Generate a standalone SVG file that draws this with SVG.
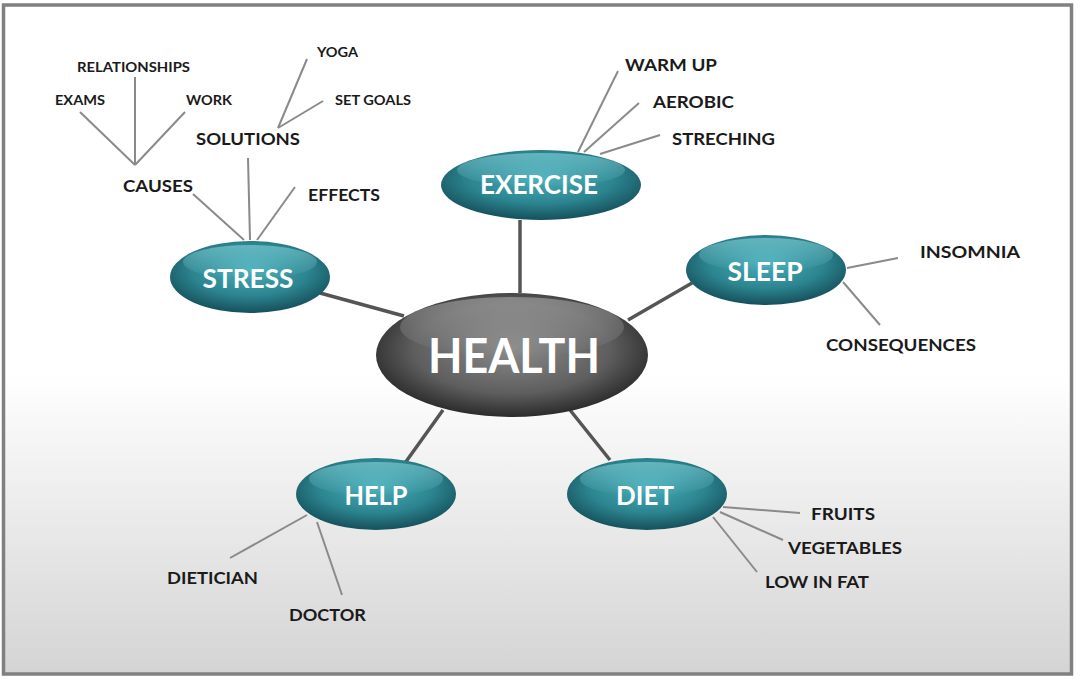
<svg xmlns="http://www.w3.org/2000/svg" width="1080" height="682" viewBox="0 0 1080 682">
<defs>
<linearGradient id="bg" x1="0" y1="0" x2="0" y2="1">
<stop offset="0" stop-color="#ffffff"/>
<stop offset="0.55" stop-color="#ffffff"/>
<stop offset="1" stop-color="#d4d4d4"/>
</linearGradient>
<radialGradient id="teal" cx="0.5" cy="0.4" r="0.6">
<stop offset="0" stop-color="#46adb8"/>
<stop offset="0.6" stop-color="#2c8590"/>
<stop offset="1" stop-color="#15505b"/>
</radialGradient>
<linearGradient id="tealGloss" x1="0" y1="0" x2="0" y2="1">
<stop offset="0" stop-color="#8fdbe3" stop-opacity="0.55"/>
<stop offset="1" stop-color="#8fdbe3" stop-opacity="0"/>
</linearGradient>
<radialGradient id="grey" cx="0.5" cy="0.45" r="0.6">
<stop offset="0" stop-color="#8a8a8a"/>
<stop offset="0.6" stop-color="#5e5e5e"/>
<stop offset="1" stop-color="#1e1e1e"/>
</radialGradient>
<linearGradient id="greyGloss" x1="0" y1="0" x2="0" y2="1">
<stop offset="0" stop-color="#c8c8c8" stop-opacity="0.45"/>
<stop offset="1" stop-color="#c8c8c8" stop-opacity="0"/>
</linearGradient>
<style>
.main{stroke:#555;stroke-width:3.5;fill:none}
.sub{stroke:#8a8a8a;stroke-width:2;fill:none}
.lbl{font-family:Lato,"Open Sans","Liberation Sans",sans-serif;font-weight:bold;fill:#1a1a1a}
.l2{font-size:17px}
.l3{font-size:13px}
.nt{font-family:Lato,"Open Sans","Liberation Sans",sans-serif;font-weight:bold;fill:#ffffff;font-size:27px;text-anchor:middle}
.ht{font-size:47px}
</style>
</defs>
<rect x="0" y="0" width="1080" height="682" fill="#ffffff"/>
<rect x="3.5" y="5" width="1068" height="669" fill="url(#bg)" stroke="#808080" stroke-width="3.5"/>
<g id="connectors">
<line class="main" x1="520" y1="220" x2="520" y2="293"/>
<line class="main" x1="320" y1="293" x2="404" y2="316"/>
<line class="main" x1="628" y1="320" x2="692" y2="283"/>
<line class="main" x1="443" y1="410" x2="405" y2="463"/>
<line class="main" x1="570" y1="410" x2="610" y2="460"/>
<line class="sub" x1="193" y1="194" x2="244" y2="240"/>
<line class="sub" x1="248" y1="158" x2="250" y2="240"/>
<line class="sub" x1="295" y1="187" x2="257" y2="240"/>
<line class="sub" x1="80" y1="112" x2="135" y2="165"/>
<line class="sub" x1="135" y1="77" x2="135" y2="165"/>
<line class="sub" x1="185" y1="112" x2="135" y2="165"/>
<line class="sub" x1="307" y1="59" x2="278" y2="128"/>
<line class="sub" x1="323" y1="101" x2="278" y2="128"/>
<line class="sub" x1="618" y1="71" x2="578" y2="152"/>
<line class="sub" x1="639" y1="103" x2="584" y2="152"/>
<line class="sub" x1="660" y1="135" x2="600" y2="154"/>
<line class="sub" x1="847" y1="268" x2="898" y2="258"/>
<line class="sub" x1="843" y1="282" x2="880" y2="325"/>
<line class="sub" x1="723" y1="507" x2="800" y2="513"/>
<line class="sub" x1="720" y1="512" x2="783" y2="540"/>
<line class="sub" x1="713" y1="517" x2="757" y2="572"/>
<line class="sub" x1="307" y1="515" x2="230" y2="558"/>
<line class="sub" x1="317" y1="522" x2="342" y2="595"/>
</g>
<g id="health">
<ellipse cx="512" cy="355" rx="136" ry="62" fill="url(#grey)"/>
<ellipse cx="512" cy="327" rx="112" ry="30" fill="url(#greyGloss)"/>
<text class="nt ht" x="514" y="373" textLength="172" lengthAdjust="spacingAndGlyphs">HEALTH</text>
</g>
<g id="exercise">
<ellipse cx="541" cy="185" rx="100" ry="35" fill="url(#teal)"/>
<ellipse cx="541" cy="170" rx="84" ry="17" fill="url(#tealGloss)"/>
<text class="nt" x="539" y="194" textLength="118" lengthAdjust="spacingAndGlyphs">EXERCISE</text>
</g>
<g id="stress">
<ellipse cx="250" cy="277" rx="80" ry="36" fill="url(#teal)"/>
<ellipse cx="250" cy="262" rx="67" ry="17" fill="url(#tealGloss)"/>
<text class="nt" x="248" y="288" textLength="91" lengthAdjust="spacingAndGlyphs">STRESS</text>
</g>
<g id="sleep">
<ellipse cx="766" cy="270" rx="80" ry="35" fill="url(#teal)"/>
<ellipse cx="766" cy="255" rx="67" ry="17" fill="url(#tealGloss)"/>
<text class="nt" x="765" y="281" textLength="75" lengthAdjust="spacingAndGlyphs">SLEEP</text>
</g>
<g id="help">
<ellipse cx="376" cy="494" rx="80" ry="36" fill="url(#teal)"/>
<ellipse cx="376" cy="479" rx="67" ry="17" fill="url(#tealGloss)"/>
<text class="nt" x="376" y="505" textLength="63" lengthAdjust="spacingAndGlyphs">HELP</text>
</g>
<g id="diet">
<ellipse cx="647" cy="494" rx="80" ry="36" fill="url(#teal)"/>
<ellipse cx="647" cy="479" rx="67" ry="17" fill="url(#tealGloss)"/>
<text class="nt" x="645" y="505" textLength="58" lengthAdjust="spacingAndGlyphs">DIET</text>
</g>
<g id="labels">
<text id="causes" class="lbl l2" x="123" y="192" textLength="70" lengthAdjust="spacingAndGlyphs">CAUSES</text>
<text id="solutions" class="lbl l2" x="196" y="145" textLength="104" lengthAdjust="spacingAndGlyphs">SOLUTIONS</text>
<text id="effects" class="lbl l2" x="308" y="201" textLength="72" lengthAdjust="spacingAndGlyphs">EFFECTS</text>
<text id="exams" class="lbl l3" x="55" y="105" textLength="50" lengthAdjust="spacingAndGlyphs">EXAMS</text>
<text id="relationships" class="lbl l3" x="77" y="72" textLength="113" lengthAdjust="spacingAndGlyphs">RELATIONSHIPS</text>
<text id="work" class="lbl l3" x="186" y="105" textLength="46" lengthAdjust="spacingAndGlyphs">WORK</text>
<text id="yoga" class="lbl l3" x="317" y="57" textLength="41" lengthAdjust="spacingAndGlyphs">YOGA</text>
<text id="setgoals" class="lbl l3" x="335" y="105" textLength="76" lengthAdjust="spacingAndGlyphs">SET GOALS</text>
<text id="warmup" class="lbl l2" x="625" y="71" textLength="92" lengthAdjust="spacingAndGlyphs">WARM UP</text>
<text id="aerobic" class="lbl l2" x="653" y="108" textLength="81" lengthAdjust="spacingAndGlyphs">AEROBIC</text>
<text id="streching" class="lbl l2" x="672" y="145" textLength="103" lengthAdjust="spacingAndGlyphs">STRECHING</text>
<text id="insomnia" class="lbl l2" x="920" y="258" textLength="100" lengthAdjust="spacingAndGlyphs">INSOMNIA</text>
<text id="consequences" class="lbl l2" x="826" y="351" textLength="150" lengthAdjust="spacingAndGlyphs">CONSEQUENCES</text>
<text id="fruits" class="lbl l2" x="811" y="520" textLength="64" lengthAdjust="spacingAndGlyphs">FRUITS</text>
<text id="vegetables" class="lbl l2" x="788" y="554" textLength="114" lengthAdjust="spacingAndGlyphs">VEGETABLES</text>
<text id="lowinfat" class="lbl l2" x="765" y="588" textLength="104" lengthAdjust="spacingAndGlyphs">LOW IN FAT</text>
<text id="dietician" class="lbl l2" x="167" y="584" textLength="91" lengthAdjust="spacingAndGlyphs">DIETICIAN</text>
<text id="doctor" class="lbl l2" x="289" y="621" textLength="77" lengthAdjust="spacingAndGlyphs">DOCTOR</text>
</g>
</svg>
